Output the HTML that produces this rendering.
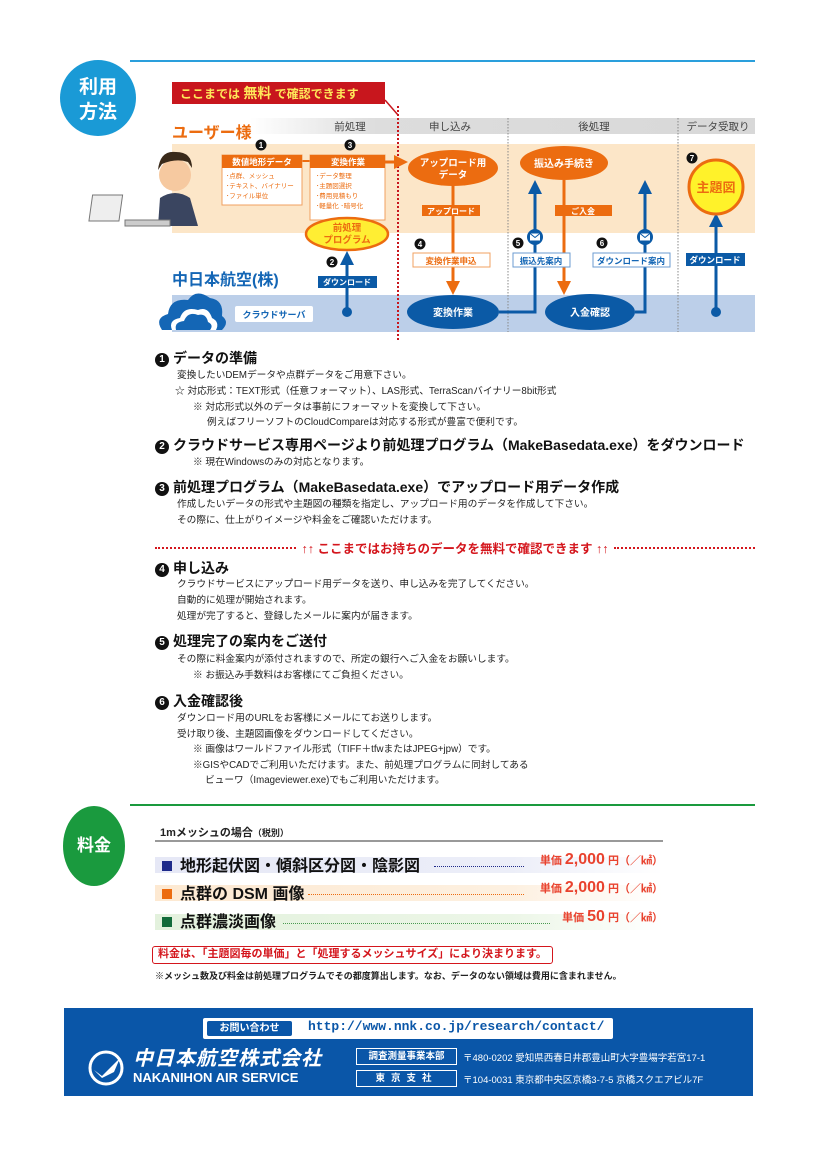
<!DOCTYPE html>
<html><head><meta charset="utf-8">
<style>
*{margin:0;padding:0;box-sizing:border-box}
body{width:818px;height:1157px;background:#fff;position:relative;overflow:hidden;font-family:"Liberation Sans","Noto Sans CJK JP",sans-serif;color:#222}
.a{position:absolute;white-space:nowrap}
.h{font-size:14px;font-weight:bold;color:#111;left:155px}
.b{font-size:9.7px;color:#222;left:177px}
.n{display:inline-block;width:14px;height:14px;border-radius:50%;background:#111;color:#fff;font-size:10px;text-align:center;line-height:14px;margin-right:4px;vertical-align:1px}
svg text{font-family:"Liberation Sans","Noto Sans CJK JP",sans-serif}
</style></head><body>
<svg class="a" style="left:0;top:0" width="818" height="345" viewBox="0 0 818 345">
<defs>
<linearGradient id="g1" x1="0" x2="1"><stop offset="0" stop-color="#fff"/><stop offset="0.25" stop-color="#ddd"/><stop offset="1" stop-color="#d8d8d8"/></linearGradient>
<marker id="ao" markerUnits="userSpaceOnUse" markerWidth="14" markerHeight="14" refX="7" refY="7" orient="auto"><path d="M0,0 L14,7 L0,14z" fill="#ec6c10"/></marker>
<marker id="ab" markerUnits="userSpaceOnUse" markerWidth="14" markerHeight="14" refX="7" refY="7" orient="auto"><path d="M0,0 L14,7 L0,14z" fill="#0b5aa6"/></marker>
</defs>
<line x1="130" y1="61" x2="755" y2="61" stroke="#2a9fdc" stroke-width="2"/>
<circle cx="98" cy="98" r="38" fill="#1a9ad6"/>
<text x="98" y="93" fill="#fff" font-size="19" font-weight="bold" text-anchor="middle">利用</text>
<text x="98" y="118" fill="#fff" font-size="19" font-weight="bold" text-anchor="middle">方法</text>
<rect x="250" y="118" width="505" height="16" fill="url(#g1)"/>
<rect x="172" y="144" width="583" height="89" fill="#fce6c8"/>
<rect x="172" y="295" width="583" height="37" fill="#bccfe9"/>
<line x1="508" y1="118" x2="508" y2="332" stroke="#888" stroke-dasharray="1.5,1.5"/>
<line x1="678" y1="118" x2="678" y2="332" stroke="#888" stroke-dasharray="1.5,1.5"/>
<text x="350" y="130" font-size="10.5" fill="#444" text-anchor="middle">前処理</text>
<text x="450" y="130" font-size="10.5" fill="#444" text-anchor="middle">申し込み</text>
<text x="594" y="130" font-size="10.5" fill="#444" text-anchor="middle">後処理</text>
<text x="718" y="130" font-size="10.5" fill="#444" text-anchor="middle">データ受取り</text>
<text x="172" y="138" font-size="16" font-weight="bold" fill="#ec6c10">ユーザー様</text>
<path d="M172,82 h213 v22 h-213z" fill="#c8161d"/>
<path d="M385,100 L398,115" stroke="#c8161d" stroke-width="1.5"/>
<text x="180" y="98" font-size="12" font-weight="bold" fill="#ffe95a">ここまでは <tspan font-size="14">無料</tspan> で確認できます</text>
<line x1="398" y1="106" x2="398" y2="342" stroke="#c8161d" stroke-width="2" stroke-dasharray="2,2"/>
<circle cx="175" cy="175" r="16" fill="#f6c9a0"/>
<path d="M158,170 q2,-20 18,-18 q16,0 16,16 l-4,-6 q-12,-4 -26,2z" fill="#3a2a1a"/>
<path d="M160,198 q15,-10 30,0 l8,28 h-40z" fill="#3a4560"/>
<rect x="120" y="195" width="30" height="26" fill="#eee" stroke="#777" transform="skewX(-8)"/>
<rect x="125" y="220" width="45" height="6" fill="#ccc" stroke="#777"/>
<line x1="302" y1="161" x2="310" y2="161" stroke="#ec6c10" stroke-width="2"/>
<rect x="222" y="155" width="80" height="50" fill="#fff" stroke="#f0a060"/>
<rect x="222" y="155" width="80" height="13" fill="#ec6c10"/>
<text x="262" y="165" font-size="8.5" font-weight="bold" fill="#fff" text-anchor="middle">数値地形データ</text>
<text x="226" y="178" font-size="6.5" fill="#ec6c10">･点群、メッシュ</text>
<text x="226" y="188" font-size="6.5" fill="#ec6c10">･テキスト、バイナリー</text>
<text x="226" y="198" font-size="6.5" fill="#ec6c10">･ファイル単位</text>
<rect x="310" y="155" width="75" height="65" fill="#fff" stroke="#f0a060"/>
<rect x="310" y="155" width="75" height="13" fill="#ec6c10"/>
<text x="348" y="165" font-size="8.5" font-weight="bold" fill="#fff" text-anchor="middle">変換作業</text>
<text x="316" y="178" font-size="6.5" fill="#ec6c10">･データ整理</text>
<text x="316" y="188" font-size="6.5" fill="#ec6c10">･主題図選択</text>
<text x="316" y="198" font-size="6.5" fill="#ec6c10">･費用見積もり</text>
<text x="316" y="208" font-size="6.5" fill="#ec6c10">･軽量化 ･暗号化</text>
<line x1="385" y1="162" x2="401" y2="162" stroke="#ec6c10" stroke-width="3" marker-end="url(#ao)"/>
<ellipse cx="347" cy="234" rx="41" ry="16" fill="#ffee33" stroke="#ec6c10" stroke-width="2.5"/>
<text x="347" y="231" font-size="9.5" font-weight="bold" fill="#ec6c10" text-anchor="middle">前処理</text>
<text x="347" y="243" font-size="9.5" font-weight="bold" fill="#ec6c10" text-anchor="middle">プログラム</text>
<g font-size="9" font-weight="bold" fill="#fff" text-anchor="middle">
<circle cx="261" cy="145" r="5.5" fill="#111"/><text x="261" y="148" font-size="8">1</text>
<circle cx="350" cy="145" r="5.5" fill="#111"/><text x="350" y="148" font-size="8">3</text>
<circle cx="332" cy="262" r="5.5" fill="#111"/><text x="332" y="265" font-size="8">2</text>
<circle cx="420" cy="244" r="5.5" fill="#111"/><text x="420" y="247" font-size="8">4</text>
<circle cx="518" cy="243" r="5.5" fill="#111"/><text x="518" y="246" font-size="8">5</text>
<circle cx="602" cy="243" r="5.5" fill="#111"/><text x="602" y="246" font-size="8">6</text>
<circle cx="692" cy="158" r="5.5" fill="#111"/><text x="692" y="161" font-size="8">7</text>
</g>
<line x1="347" y1="312" x2="347" y2="258" stroke="#0b5aa6" stroke-width="3" marker-end="url(#ab)"/>
<circle cx="347" cy="312" r="5" fill="#0b5aa6"/>
<rect x="318" y="276" width="59" height="12" fill="#0b5aa6"/>
<text x="347" y="285" font-size="8" font-weight="bold" fill="#fff" text-anchor="middle">ダウンロード</text>
<text x="172" y="285" font-size="16" font-weight="bold" fill="#1466b5">中日本航空(株)</text>
<path d="M162,330 q-8,-12 6,-16 q2,-16 20,-14 q8,-12 22,-2 q14,2 12,18 q8,6 0,14z" fill="#1466b5"/>
<path d="M172,330 q-4,-10 8,-12 q4,-12 18,-8 q10,-4 14,8 q8,4 4,12z" fill="#fff"/>
<path d="M176,330 q-2,-8 8,-9 q4,-10 14,-6 q8,-2 10,7 q6,3 2,8z" fill="#1466b5"/>
<rect x="235" y="306" width="78" height="16" rx="2" fill="#fff"/>
<text x="274" y="318" font-size="9" font-weight="bold" fill="#1466b5" text-anchor="middle">クラウドサーバ</text>
<line x1="453" y1="184" x2="453" y2="288" stroke="#ec6c10" stroke-width="3" marker-end="url(#ao)"/>
<ellipse cx="453" cy="168" rx="45" ry="18" fill="#ec6c10"/>
<text x="453" y="166" font-size="9.5" font-weight="bold" fill="#fff" text-anchor="middle">アップロード用</text>
<text x="453" y="178" font-size="9.5" font-weight="bold" fill="#fff" text-anchor="middle">データ</text>
<rect x="422" y="205" width="58" height="11" fill="#ec6c10"/>
<text x="451" y="214" font-size="8" font-weight="bold" fill="#fff" text-anchor="middle">アップロード</text>
<rect x="413" y="253" width="77" height="14" fill="#fff" stroke="#f0a060"/>
<text x="451" y="264" font-size="8.5" font-weight="bold" fill="#ec6c10" text-anchor="middle">変換作業申込</text>
<polyline points="499,312 535,312 535,187" fill="none" stroke="#0b5aa6" stroke-width="3" marker-end="url(#ab)"/>
<polyline points="635,312 645,312 645,187" fill="none" stroke="#0b5aa6" stroke-width="3" marker-end="url(#ab)"/>
<line x1="564" y1="180" x2="564" y2="288" stroke="#ec6c10" stroke-width="3" marker-end="url(#ao)"/>
<ellipse cx="453" cy="312" rx="46" ry="17" fill="#0b5aa6"/>
<text x="453" y="316" font-size="10" font-weight="bold" fill="#fff" text-anchor="middle">変換作業</text>
<ellipse cx="564" cy="163" rx="44" ry="17" fill="#ec6c10"/>
<text x="564" y="167" font-size="10" font-weight="bold" fill="#fff" text-anchor="middle">振込み手続き</text>
<rect x="555" y="205" width="57" height="11" fill="#ec6c10"/>
<text x="583" y="214" font-size="8" font-weight="bold" fill="#fff" text-anchor="middle">ご入金</text>
<ellipse cx="590" cy="312" rx="45" ry="18" fill="#0b5aa6"/>
<text x="590" y="316" font-size="10" font-weight="bold" fill="#fff" text-anchor="middle">入金確認</text>
<g><circle cx="535" cy="237" r="8" fill="#0b5aa6"/><rect x="530" y="233.5" width="10" height="7" fill="#fff"/><path d="M530,233.5 l5,4 l5,-4" stroke="#0b5aa6" fill="none"/></g>
<g><circle cx="645" cy="237" r="8" fill="#0b5aa6"/><rect x="640" y="233.5" width="10" height="7" fill="#fff"/><path d="M640,233.5 l5,4 l5,-4" stroke="#0b5aa6" fill="none"/></g>
<rect x="513" y="253" width="57" height="14" fill="#fff" stroke="#6b9bd0"/>
<text x="541" y="264" font-size="8.5" font-weight="bold" fill="#1466b5" text-anchor="middle">振込先案内</text>
<rect x="593" y="253" width="77" height="14" fill="#fff" stroke="#6b9bd0"/>
<text x="631" y="264" font-size="8.5" font-weight="bold" fill="#1466b5" text-anchor="middle">ダウンロード案内</text>
<line x1="716" y1="312" x2="716" y2="220" stroke="#0b5aa6" stroke-width="3" marker-end="url(#ab)"/>
<circle cx="716" cy="312" r="5" fill="#0b5aa6"/>
<circle cx="716" cy="187" r="27" fill="#fff22a" stroke="#ec6c10" stroke-width="3"/>
<text x="716" y="192" font-size="13" font-weight="bold" fill="#ec6c10" text-anchor="middle">主題図</text>
<rect x="686" y="253" width="59" height="13" fill="#0b5aa6"/>
<text x="715" y="263" font-size="8.5" font-weight="bold" fill="#fff" text-anchor="middle">ダウンロード</text>
</svg>

<div class="a h" style="top:348px"><span class="n">1</span>データの準備</div>
<div class="a b" style="top:367px">変換したいDEMデータや点群データをご用意下さい。</div>
<div class="a b" style="top:383px;left:175px">☆ 対応形式：TEXT形式（任意フォーマット）、LAS形式、TerraScanバイナリー8bit形式</div>
<div class="a b" style="top:399px;left:193px">※ 対応形式以外のデータは事前にフォーマットを変換して下さい。</div>
<div class="a b" style="top:414px;left:207px">例えばフリーソフトのCloudCompareは対応する形式が豊富で便利です。</div>
<div class="a h" style="top:435px"><span class="n">2</span>クラウドサービス専用ページより前処理プログラム（MakeBasedata.exe）をダウンロード</div>
<div class="a b" style="top:454px;left:193px">※ 現在Windowsのみの対応となります。</div>
<div class="a h" style="top:477px"><span class="n">3</span>前処理プログラム（MakeBasedata.exe）でアップロード用データ作成</div>
<div class="a b" style="top:496px">作成したいデータの形式や主題図の種類を指定し、アップロード用のデータを作成して下さい。</div>
<div class="a b" style="top:512px">その際に、仕上がりイメージや料金をご確認いただけます。</div>
<div class="a" style="top:538px;left:155px;width:600px;font-size:12.5px;font-weight:bold;color:#d4161d;display:flex;align-items:center"><span style="flex:1;border-top:2px dotted #d4161d"></span><span style="padding:0 6px">↑↑ ここまではお持ちのデータを無料で確認できます ↑↑</span><span style="flex:1;border-top:2px dotted #d4161d"></span></div>
<div class="a h" style="top:558px"><span class="n">4</span>申し込み</div>
<div class="a b" style="top:576px">クラウドサービスにアップロード用データを送り、申し込みを完了してください。</div>
<div class="a b" style="top:592px">自動的に処理が開始されます。</div>
<div class="a b" style="top:608px">処理が完了すると、登録したメールに案内が届きます。</div>
<div class="a h" style="top:631px"><span class="n">5</span>処理完了の案内をご送付</div>
<div class="a b" style="top:651px">その際に料金案内が添付されますので、所定の銀行へご入金をお願いします。</div>
<div class="a b" style="top:667px;left:193px">※ お振込み手数料はお客様にてご負担ください。</div>
<div class="a h" style="top:691px"><span class="n">6</span>入金確認後</div>
<div class="a b" style="top:710px">ダウンロード用のURLをお客様にメールにてお送りします。</div>
<div class="a b" style="top:726px">受け取り後、主題図画像をダウンロードしてください。</div>
<div class="a b" style="top:741px;left:193px">※ 画像はワールドファイル形式（TIFF＋tfwまたはJPEG+jpw）です。</div>
<div class="a b" style="top:757px;left:193px">※GISやCADでご利用いただけます。また、前処理プログラムに同封してある</div>
<div class="a b" style="top:772px;left:205px">ビューワ（Imageviewer.exe)でもご利用いただけます。</div>

<div class="a" style="left:130px;top:804px;width:625px;height:2px;background:#1a9a3e"></div>
<div class="a" style="left:63px;top:806px;width:62px;height:80px;border-radius:50%;background:#1a9a3e;color:#fff;font-size:17px;font-weight:bold;text-align:center;line-height:80px">料金</div>
<div class="a" style="left:160px;top:824px;font-size:11px;font-weight:bold;color:#222">1mメッシュの場合<span style="font-size:9px">（税別）</span></div>
<div class="a" style="left:155px;top:840px;width:508px;height:1.5px;background:#999"></div>

<div class="a" style="left:155px;top:857px;width:508px;height:16px;background:linear-gradient(90deg,#e6e8f6,#eceef8 70%,#fff)"></div>
<div class="a" style="left:162px;top:852px;font-size:16px;font-weight:bold;color:#111"><span style="display:inline-block;width:10px;height:10px;background:#1e2a8a;margin-right:8px"></span>地形起伏図・傾斜区分図・陰影図</div>
<div class="a" style="left:434px;top:866px;width:90px;border-top:1.5px dotted #1e2a8a"></div>
<div class="a" style="right:155px;top:851px;font-size:11px;font-weight:bold;color:#e9422e">単価 <span style="font-size:16px">2,000</span> 円（／㎢）</div>

<div class="a" style="left:155px;top:885px;width:508px;height:16px;background:linear-gradient(90deg,#fde9d2,#fdf0e0 70%,#fff)"></div>
<div class="a" style="left:162px;top:880px;font-size:16px;font-weight:bold;color:#111"><span style="display:inline-block;width:10px;height:10px;background:#ec6c10;margin-right:8px"></span>点群の DSM 画像</div>
<div class="a" style="left:308px;top:894px;width:216px;border-top:1.5px dotted #ec6c10"></div>
<div class="a" style="right:155px;top:879px;font-size:11px;font-weight:bold;color:#e9422e">単価 <span style="font-size:16px">2,000</span> 円（／㎢）</div>

<div class="a" style="left:155px;top:914px;width:508px;height:16px;background:linear-gradient(90deg,#e3f1dd,#ecf6e7 70%,#fff)"></div>
<div class="a" style="left:162px;top:908px;font-size:16px;font-weight:bold;color:#111"><span style="display:inline-block;width:10px;height:10px;background:#126b3a;margin-right:8px"></span>点群濃淡画像</div>
<div class="a" style="left:283px;top:923px;width:267px;border-top:1.5px dotted #4a9a50"></div>
<div class="a" style="right:155px;top:908px;font-size:11px;font-weight:bold;color:#e9422e">単価 <span style="font-size:16px">50</span> 円（／㎢）</div>

<div class="a" style="left:152px;top:946px;width:401px;height:18px;border:1.5px solid #d4161d;border-radius:3px;font-size:11px;font-weight:bold;color:#d4161d;line-height:15px;padding-left:5px">料金は、「主題図毎の単価」と「処理するメッシュサイズ」により決まります。</div>
<div class="a" style="left:155px;top:969px;font-size:9px;color:#222;font-weight:bold">※メッシュ数及び料金は前処理プログラムでその都度算出します。なお、データのない領域は費用に含まれません。</div>

<div class="a" style="left:64px;top:1008px;width:689px;height:88px;background:#0a56a8"></div>
<div class="a" style="left:203px;top:1018px;width:410px;height:21px;background:#fff;border-radius:2px"></div>
<div class="a" style="left:207px;top:1021px;width:85px;height:15px;background:#0a56a8;border-radius:2px;color:#fff;font-size:10px;font-weight:bold;text-align:center;line-height:15px">お問い合わせ</div>
<div class="a" style="left:308px;top:1019px;font-family:'Liberation Mono',monospace;font-size:13px;color:#0a56a8;font-weight:bold">http://www.nnk.co.jp/research/contact/</div>
<svg class="a" style="left:86px;top:1048px" width="40" height="40"><circle cx="20" cy="20" r="16" fill="none" stroke="#fff" stroke-width="3"/><path d="M8,22 l8,6 l18,-18 l-6,14 l-12,6z" fill="#fff"/></svg>
<div class="a" style="left:133px;top:1042px;font-size:20px;font-weight:bold;font-style:italic;color:#fff;letter-spacing:1px">中日本航空株式会社</div>
<div class="a" style="left:133px;top:1070px;font-size:13px;font-weight:bold;color:#fff">NAKANIHON AIR SERVICE</div>
<div class="a" style="left:356px;top:1048px;width:101px;height:17px;border:1px solid #fff;color:#fff;font-size:9.5px;font-weight:bold;text-align:center;line-height:15px">調査測量事業本部</div>
<div class="a" style="left:356px;top:1070px;width:101px;height:17px;border:1px solid #fff;color:#fff;font-size:9.5px;font-weight:bold;text-align:center;line-height:15px;letter-spacing:6px">東京支社</div>
<div class="a" style="left:463px;top:1050px;font-size:9.5px;color:#fff">〒480-0202 愛知県西春日井郡豊山町大字豊場字若宮17-1</div>
<div class="a" style="left:463px;top:1072px;font-size:9.5px;color:#fff">〒104-0031 東京都中央区京橋3-7-5 京橋スクエアビル7F</div>
</body></html>
